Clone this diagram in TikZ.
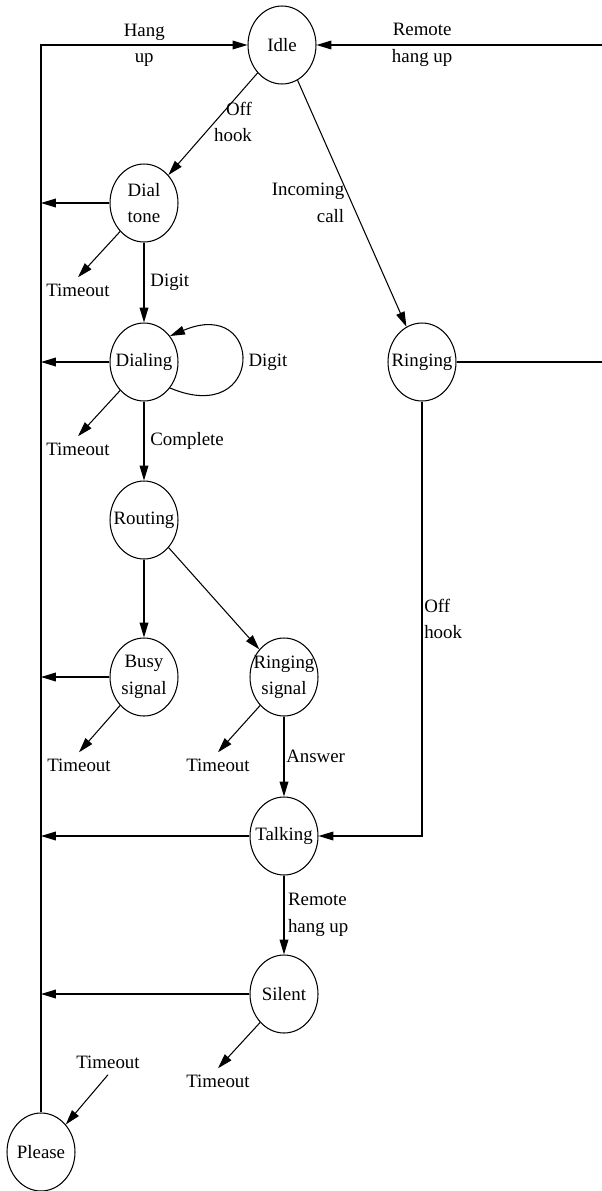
\documentclass[tikz,border=0pt]{standalone}
\usepackage{fontspec}
\setmainfont{Liberation Serif}
\usetikzlibrary{shapes.geometric, arrows.meta}

\begin{document}
\begin{tikzpicture}[x=0.02cm, y=-0.02cm, line width=0.6pt,
    >={Triangle[length=8.5pt, width=5pt]},
    every node/.style={font=\fontsize{10.75pt}{15pt}\selectfont},
    state/.style={draw, ellipse, align=center, inner xsep=-8pt, inner ysep=0pt,
        minimum width=1.36cm, minimum height=1.56cm}]
    \useasboundingbox (0,0) rectangle (602,1191);
    % States
    \node[state] (idle) at (282,45) {Idle};
    \node[state] (dialtone) at (144,203) {Dial\\tone};
    \node[state] (dialing) at (144,362) {Dialing};
    \node[state] (ringing) at (422,362) {Ringing};
    \node[state] (routing) at (144,520) {Routing};
    \node[state] (busy) at (144,677) {Busy\\signal};
    \node[state] (ringsig) at (284,677) {Ringing\\signal};
    \node[state] (talking) at (284,836) {Talking};
    \node[state] (silent) at (284,994) {Silent};
    \node[state] (please) at (41,1152) {Please};
    % Timeout labels
    \node (todialtone) at (78,290) {Timeout};
    \node (todialing) at (78,449) {Timeout};
    \node (tobusy) at (79,765) {Timeout};
    \node (toringsig) at (218,765) {Timeout};
    \node (tosilent) at (218,1081) {Timeout};
    \node (toplease) at (108,1062) {Timeout};
    % Ends of the lines leaving the picture on the right
    \coordinate (farhang) at (602,45);
    \coordinate (farring) at (602,362);
    % Main transitions
    \draw[->] (idle) -- (dialtone) node[align=right] at (233,122) {Off\\hook};
    \draw[->] (idle) -- (ringing) node[align=right] at (308,203) {Incoming\\call};
    \draw[->] (dialtone) -- node[right] {Digit} (dialing);
    \draw[->] (dialing.-45) .. controls +(95,40) and +(95,-40) .. (dialing.45)
        node at (268,362) {Digit};
    \draw[->] (dialing) -- node[right] {Complete} (routing);
    \draw[->] (routing) -- (busy);
    \draw[->] (routing) -- (ringsig);
    \draw[->] (ringsig) -- node[right, inner sep=1pt] {Answer} (talking);
    \draw[->] (talking) -- node[right, align=left, inner sep=2pt] {Remote\\hang up} (silent);
    \draw[->] (ringing) |- node[pos=0.25, right, inner sep=1pt, align=left] {Off\\hook} (talking);
    \draw[->] (farhang) -- node[pos=0.63, align=center] {Remote\\hang up} (idle);
    \draw (ringing) -- (farring);
    % Hang up: back to Idle along the left line
    \draw[->] (please) |- node[pos=0.75, align=center] {Hang\\up} (idle);
    \draw[->] (dialtone) -- (dialtone -| please);
    \draw[->] (dialing) -- (dialing -| please);
    \draw[->] (busy) -- (busy -| please);
    \draw[->] (talking) -- (talking -| please);
    \draw[->] (silent) -- (silent -| please);
    % Timeouts
    \draw[->] (dialtone.230) -- (todialtone.north);
    \draw[->] (dialing.230) -- (todialing.north);
    \draw[->] (busy.230) -- (tobusy.north);
    \draw[->] (ringsig.230) -- (toringsig.north);
    \draw[->] (silent.230) -- (tosilent.north);
    \draw[->] (toplease.south) -- (please.48);
\end{tikzpicture}
\end{document}
